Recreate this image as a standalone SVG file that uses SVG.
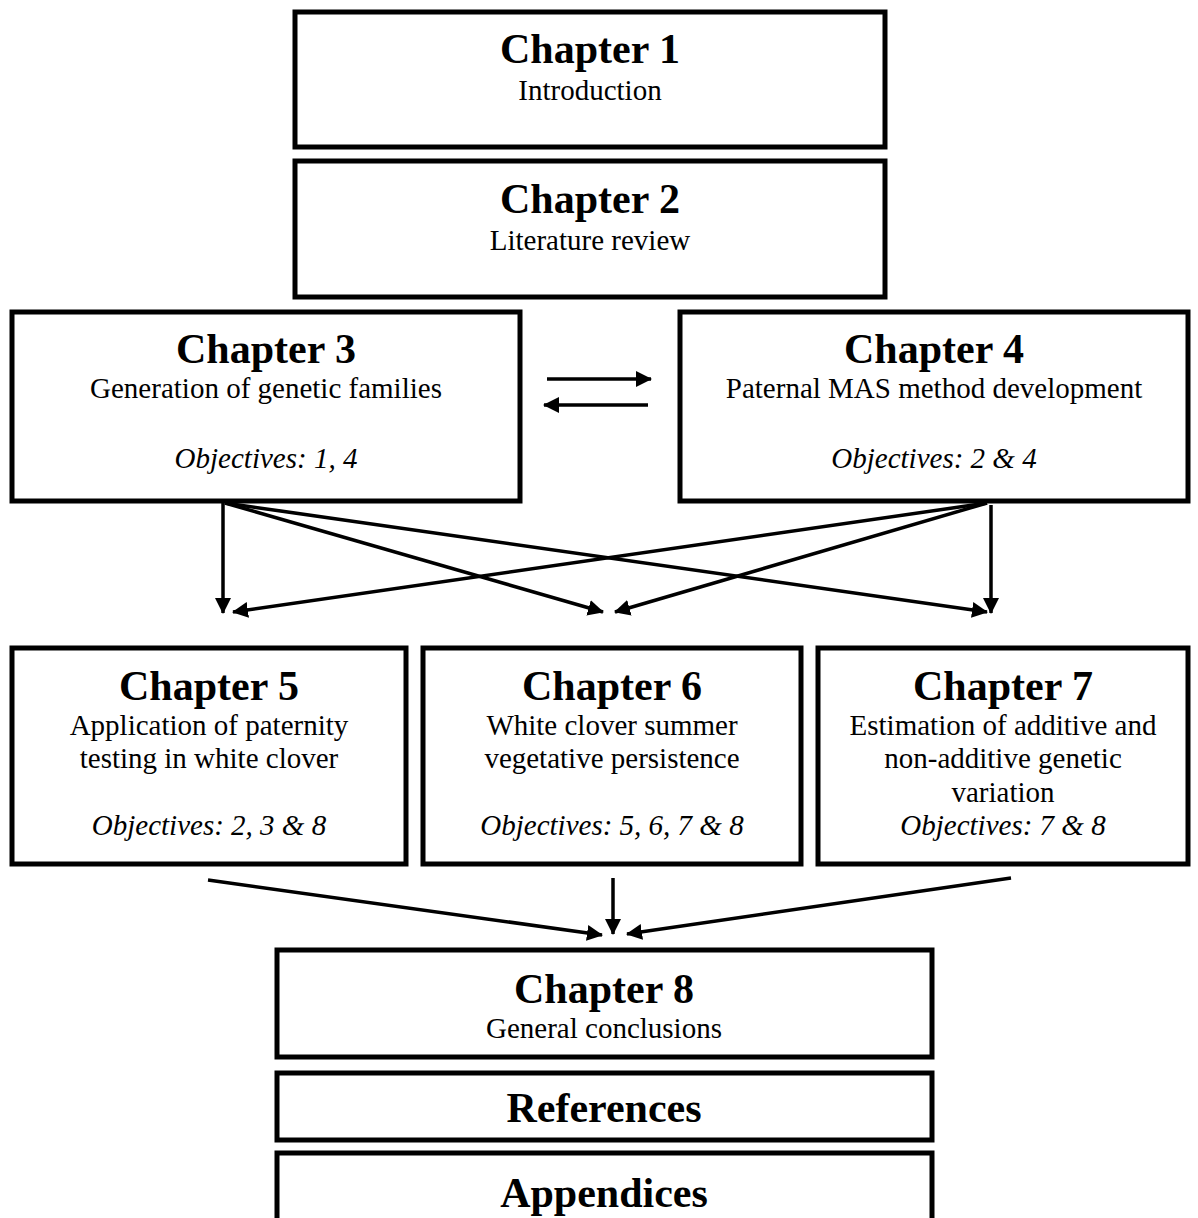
<svg xmlns="http://www.w3.org/2000/svg" width="1198" height="1218" viewBox="0 0 1198 1218">
<style>
.box{fill:#fff;stroke:#000;stroke-width:5}
.t{font-family:"Liberation Serif","Times New Roman",serif;text-anchor:middle;fill:#000}
.h{font-size:42px;font-weight:bold}
.r{font-size:29px}
.i{font-size:29px;font-style:italic}
.c{stroke:#000;stroke-width:3.5;fill:none;marker-end:url(#ah)}
</style>
<defs>
<marker id="ah" markerUnits="userSpaceOnUse" markerWidth="18" markerHeight="18" refX="15" refY="8.5" orient="auto">
<path d="M0,0.5 L16,8.5 L0,16.5 z" fill="#000"/>
</marker>
</defs>
<rect width="1198" height="1218" fill="#fff"/>
<g id="ch1">
<rect class="box" x="295" y="12" width="590" height="135"/>
<text class="t h" x="590" y="63">Chapter 1</text>
<text class="t r" x="590" y="100">Introduction</text>
</g>
<g id="ch2">
<rect class="box" x="295" y="161" width="590" height="136"/>
<text class="t h" x="590" y="213">Chapter 2</text>
<text class="t r" x="590" y="250">Literature review</text>
</g>
<g id="ch3">
<rect class="box" x="12" y="312" width="508" height="189"/>
<text class="t h" x="266" y="363">Chapter 3</text>
<text class="t r" x="266" y="398">Generation of genetic families</text>
<text class="t i" x="266" y="468">Objectives: 1, 4</text>
</g>
<g id="ch4">
<rect class="box" x="680" y="312" width="508" height="189"/>
<text class="t h" x="934" y="363">Chapter 4</text>
<text class="t r" x="934" y="398">Paternal MAS method development</text>
<text class="t i" x="934" y="468">Objectives: 2 &amp; 4</text>
</g>
<g id="ch5">
<rect class="box" x="12" y="648" width="394" height="216"/>
<text class="t h" x="209" y="700">Chapter 5</text>
<text class="t r" x="209" y="735">Application of paternity</text>
<text class="t r" x="209" y="768">testing in white clover</text>
<text class="t i" x="209" y="835">Objectives: 2, 3 &amp; 8</text>
</g>
<g id="ch6">
<rect class="box" x="423" y="648" width="378" height="216"/>
<text class="t h" x="612" y="700">Chapter 6</text>
<text class="t r" x="612" y="735">White clover summer</text>
<text class="t r" x="612" y="768">vegetative persistence</text>
<text class="t i" x="612" y="835">Objectives: 5, 6, 7 &amp; 8</text>
</g>
<g id="ch7">
<rect class="box" x="818" y="648" width="370" height="216"/>
<text class="t h" x="1003" y="700">Chapter 7</text>
<text class="t r" x="1003" y="735">Estimation of additive and</text>
<text class="t r" x="1003" y="768">non-additive genetic</text>
<text class="t r" x="1003" y="802">variation</text>
<text class="t i" x="1003" y="835">Objectives: 7 &amp; 8</text>
</g>
<g id="ch8">
<rect class="box" x="277" y="950" width="655" height="107"/>
<text class="t h" x="604" y="1003">Chapter 8</text>
<text class="t r" x="604" y="1038">General conclusions</text>
</g>
<g id="references">
<rect class="box" x="277" y="1073" width="655" height="67"/>
<text class="t h" x="604" y="1122">References</text>
</g>
<g id="appendices">
<rect class="box" x="277" y="1153" width="655" height="80"/>
<text class="t h" x="604" y="1207">Appendices</text>
</g>
<g id="connectors">
<line class="c" x1="547" y1="379" x2="651" y2="379"/>
<line class="c" x1="648" y1="405" x2="544" y2="405"/>
<line class="c" x1="223" y1="503" x2="223" y2="613"/>
<line class="c" x1="225" y1="503" x2="603" y2="612"/>
<line class="c" x1="225" y1="503" x2="987" y2="612"/>
<line class="c" x1="987" y1="503" x2="233" y2="612"/>
<line class="c" x1="987" y1="503" x2="615" y2="612"/>
<line class="c" x1="991" y1="505" x2="991" y2="613"/>
<line class="c" x1="208" y1="880" x2="602" y2="935"/>
<line class="c" x1="613" y1="878" x2="613" y2="934"/>
<line class="c" x1="1011" y1="878" x2="627" y2="934"/>
</g>
</svg>
